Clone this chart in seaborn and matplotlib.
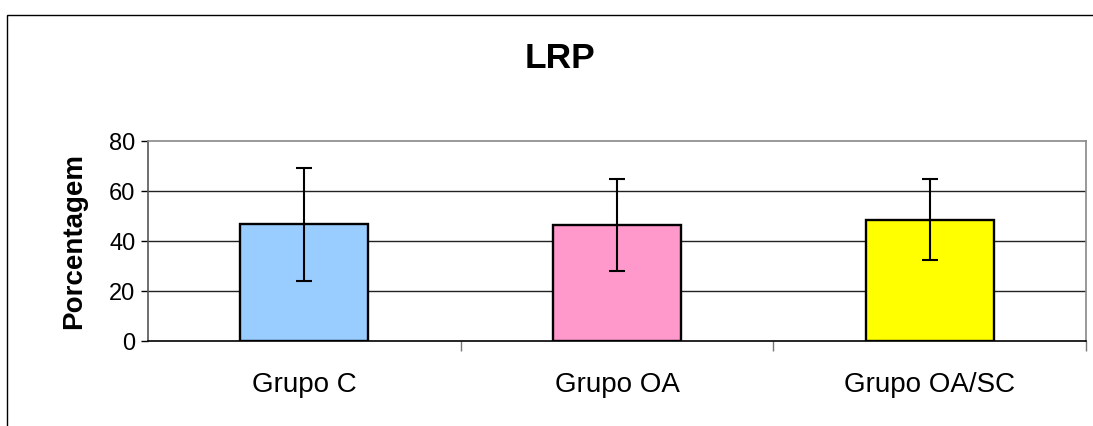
import matplotlib
matplotlib.use("Agg")
import matplotlib.pyplot as plt
import seaborn as sns
import pandas as pd
from matplotlib.patches import Rectangle

categories = ["Grupo C", "Grupo OA", "Grupo OA/SC"]
means = [46.7, 46.5, 48.5]
errors = [22.5, 18.4, 16.2]
colors = ["#99CCFF", "#FF99CC", "#FFFF00"]
yticks = [0, 20, 40, 60, 80]
title = "LRP"
ylabel = "Porcentagem"

sns.set_theme(style="white")
plt.rcParams["font.family"] = ["Liberation Sans", "DejaVu Sans"]
plt.rcParams["text.color"] = "black"
plt.rcParams["axes.labelcolor"] = "black"
plt.rcParams["xtick.color"] = "black"
plt.rcParams["ytick.color"] = "black"

df = pd.DataFrame({"grupo": categories, "valor": means})

fig = plt.figure(figsize=(10.93, 4.26), dpi=100)
ax = fig.add_axes([148/1093, 1-341/426, (1086-148)/1093, 200/426])

sns.barplot(data=df, x="grupo", y="valor", hue="grupo", palette=colors,
            saturation=1, errorbar=None, width=0.41, edgecolor="black",
            linewidth=1.7, legend=False, ax=ax, zorder=3)
ax.errorbar(x=range(len(categories)), y=means, yerr=errors, fmt="none",
            ecolor="black", elinewidth=1.5, capsize=6, capthick=1.5, zorder=4)

ax.set_xlim(-0.5, 2.5)
ax.set_ylim(0, 80)
ax.set_yticks(yticks)
for v in yticks[1:-1]:
    ax.axhline(v, color="#222222", lw=1, zorder=1)

ax.set_xlabel("")
ax.set_ylabel(ylabel, fontsize=20, fontweight="bold", labelpad=16)
ax.tick_params(axis="y", labelsize=17, length=5, width=1, direction="out",
               left=True, pad=4, colors="black")
ax.tick_params(axis="x", which="major", labelsize=20, length=0, pad=22,
               labelcolor="black")
ax.set_xticks([0.5, 1.5, 2.5], minor=True)
ax.tick_params(axis="x", which="minor", length=7, width=1, direction="out",
               bottom=True, color="#777777")

for s in ["top", "right"]:
    ax.spines[s].set_visible(True)
    ax.spines[s].set_color("#888888")
    ax.spines[s].set_linewidth(1.2)
ax.spines["left"].set_color("#555555")
ax.spines["left"].set_linewidth(1.2)
ax.spines["bottom"].set_color("black")
ax.spines["bottom"].set_linewidth(1.2)

fig.text(560/1093, 1-58/426, title, ha="center", va="center",
         fontsize=25.5, fontweight="bold", color="black")

fig.patches.append(Rectangle((7/1093, -0.1), 2, 1-15/426+0.1,
                             transform=fig.transFigure, fill=False,
                             edgecolor="black", linewidth=1, zorder=0))

fig.savefig("out.png", dpi=100, facecolor="white")
